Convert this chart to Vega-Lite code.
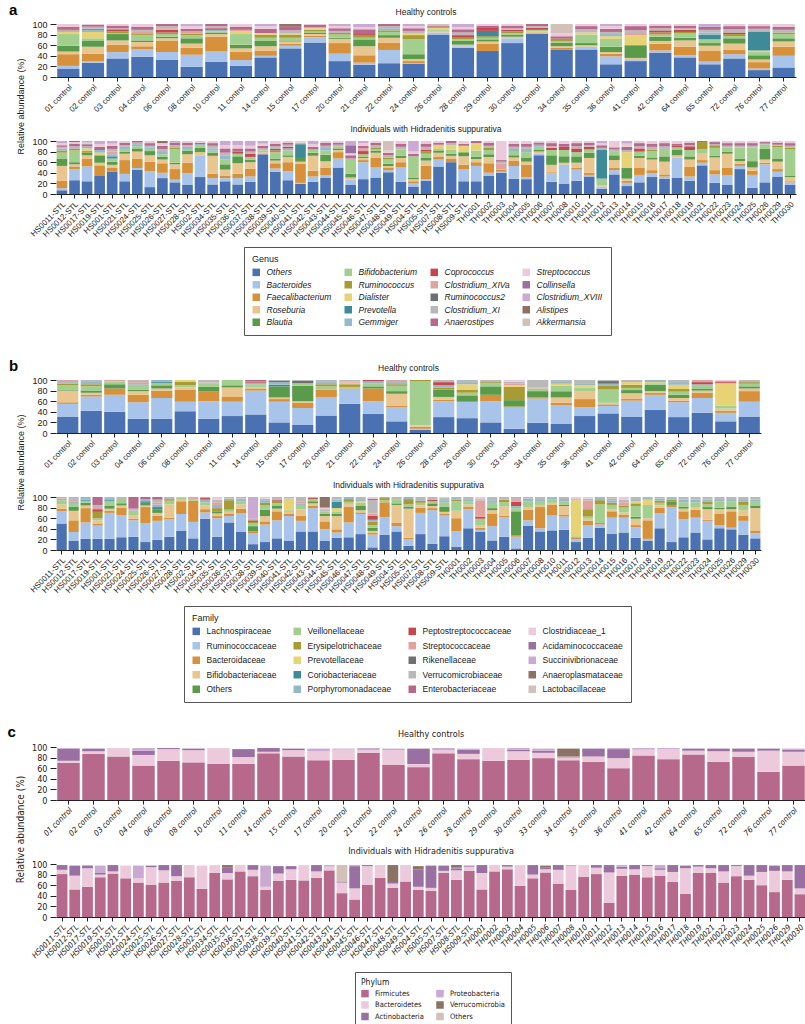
{
"$schema":"https://vega.github.io/schema/vega-lite/v6.json",
"padding":{"left":7,"top":2,"right":0,"bottom":0},
"config":{"view":{"stroke":null},"font":"Liberation Sans",
"title":{"fontSize":8.5,"fontWeight":"normal","color":"#222","offset":4,"anchor":"middle"},
"axis":{"labelColor":"#222","titleColor":"#222","tickColor":"#222","domainColor":"#222","tickSize":4,"labelPadding":2,"titleFontWeight":"normal","titleFontSize":9,"labelFontSize":8,"grid":false},
"axisY":{"domain":false,"labelFontSize":9,"tickSize":6,"labelPadding":3,"titlePadding":6},
"axisX":{"labelAngle":-45},
"legend":{"titleFontWeight":"normal","titleFontSize":9,"titlePadding":4,"symbolType":"square","symbolSize":56,"symbolStrokeWidth":0,"strokeColor":"#555","padding":8,"labelOffset":6,"labelColor":"#222","titleColor":"#222"}},
"datasets":{
"gmap":[{"k":"o","name":"Others","i":0},{"k":"bc","name":"Bacteroides","i":1},{"k":"fa","name":"Faecalibacterium","i":2},{"k":"ro","name":"Roseburia","i":3},{"k":"bl","name":"Blautia","i":4},{"k":"bi","name":"Bifidobacterium","i":5},{"k":"ru","name":"Ruminococcus","i":6},{"k":"di","name":"Dialister","i":7},{"k":"pr","name":"Prevotella","i":8},{"k":"ge","name":"Gemmiger","i":9},{"k":"co","name":"Coprococcus","i":10},{"k":"c14","name":"Clostridium_XIVa","i":11},{"k":"r2","name":"Ruminococcus2","i":12},{"k":"c11","name":"Clostridium_XI","i":13},{"k":"an","name":"Anaerostipes","i":14},{"k":"st","name":"Streptococcus","i":15},{"k":"cl","name":"Collinsella","i":16},{"k":"c18","name":"Clostridium_XVIII","i":17},{"k":"al","name":"Alistipes","i":18},{"k":"ak","name":"Akkermansia","i":19}],
"fmap":[{"k":"la","name":"Lachnospiraceae","i":0},{"k":"rm","name":"Ruminococcaceae","i":1},{"k":"bd","name":"Bacteroidaceae","i":2},{"k":"bf","name":"Bifidobacteriaceae","i":3},{"k":"ot","name":"Others","i":4},{"k":"ve","name":"Veillonellaceae","i":5},{"k":"er","name":"Erysipelotrichaceae","i":6},{"k":"pv","name":"Prevotellaceae","i":7},{"k":"cr","name":"Coriobacteriaceae","i":8},{"k":"po","name":"Porphyromonadaceae","i":9},{"k":"pe","name":"Peptostreptococcaceae","i":10},{"k":"sc","name":"Streptococcaceae","i":11},{"k":"ri","name":"Rikenellaceae","i":12},{"k":"vm","name":"Verrucomicrobiaceae","i":13},{"k":"en","name":"Enterobacteriaceae","i":14},{"k":"cd","name":"Clostridiaceae_1","i":15},{"k":"ac","name":"Acidaminococcaceae","i":16},{"k":"su","name":"Succinivibrionaceae","i":17},{"k":"ap","name":"Anaeroplasmataceae","i":18},{"k":"lb","name":"Lactobacillaceae","i":19}],
"pmap":[{"k":"fi","name":"Firmicutes","i":0},{"k":"bt","name":"Bacteroidetes","i":1},{"k":"ac","name":"Actinobacteria","i":2},{"k":"pb","name":"Proteobacteria","i":3},{"k":"vc","name":"Verrucomicrobia","i":4},{"k":"ot","name":"Others","i":5}],
"genus":[
{"s":"01 control","g":"H","o":16,"bc":5,"fa":22,"ro":5,"bl":11,"bi":22,"di":4,"c14":3,"r2":2,"an":5,"st":5},
{"s":"02 control","g":"H","o":27,"bc":3,"fa":14,"ro":13,"bl":11,"bi":5,"di":12,"ge":4,"r2":2,"c11":4,"an":3,"st":2},
{"s":"03 control","g":"H","o":35,"bc":12,"fa":14,"ro":8,"bl":12,"bi":2,"ru":3,"co":4,"c11":2,"an":5,"st":3},
{"s":"04 control","g":"H","o":38,"bc":14,"fa":6,"ro":8,"bl":3,"bi":10,"ru":2,"c14":4,"c11":4,"an":6,"st":5},
{"s":"06 control","g":"H","o":32,"bc":15,"fa":21,"ro":5,"bl":3,"bi":5,"ru":3,"co":5,"c14":3,"c11":4,"an":4},
{"s":"08 control","g":"H","o":19,"bc":23,"fa":13,"ro":8,"bl":10,"bi":6,"ru":3,"c14":4,"an":5,"st":5,"c18":4},
{"s":"10 control","g":"H","o":29,"bc":19,"fa":28,"ro":5,"bl":3,"bi":2,"ge":3,"co":3,"c11":4,"an":4},
{"s":"11 control","g":"H","o":21,"bc":11,"fa":16,"ro":6,"bl":7,"bi":20,"di":5,"c14":3,"an":6,"st":5},
{"s":"14 control","g":"H","o":37,"bc":3,"fa":10,"ro":8,"bl":10,"bi":6,"ru":6,"di":3,"an":8,"st":5,"c18":4},
{"s":"15 control","g":"H","o":54,"bc":5,"fa":4,"ro":4,"bl":2,"bi":5,"ru":6,"di":3,"c11":5,"an":8,"al":4},
{"s":"17 control","g":"H","o":65,"bc":10,"fa":3,"ro":3,"bl":2,"bi":3,"ru":3,"di":3,"c11":2,"an":4,"st":2},
{"s":"20 control","g":"H","o":30,"bc":14,"fa":20,"ro":8,"bl":2,"bi":6,"ru":3,"c11":4,"an":5,"st":4,"c18":4},
{"s":"21 control","g":"H","o":23,"bc":4,"fa":14,"ro":17,"bl":13,"bi":3,"ru":4,"co":3,"an":9,"st":4,"c18":6},
{"s":"22 control","g":"H","o":26,"bc":25,"fa":14,"ro":9,"bl":5,"bi":6,"ru":3,"ge":4,"c11":4,"an":4},
{"s":"24 control","g":"H","o":25,"bc":1,"fa":4,"ro":4,"bl":9,"bi":28,"ru":8,"di":4,"c11":4,"an":5,"st":4,"c18":4},
{"s":"26 control","g":"H","o":80,"bc":4,"ro":3,"bi":3,"di":3,"an":3,"ak":4},
{"s":"28 control","g":"H","o":55,"bc":3,"ro":3,"bl":7,"bi":3,"ru":3,"co":5,"c11":5,"an":6,"st":4,"c18":6},
{"s":"29 control","g":"H","o":49,"fa":14,"ro":4,"bl":4,"bi":3,"ru":3,"pr":10,"co":7,"an":3,"st":3},
{"s":"30 control","g":"H","o":64,"bc":9,"ro":3,"bl":4,"bi":3,"ru":3,"co":3,"c11":3,"an":5,"st":3},
{"s":"33 control","g":"H","o":82,"ro":4,"bi":3,"co":4,"c11":3,"an":4},
{"s":"34 control","g":"H","o":52,"fa":3,"ro":3,"bl":7,"bi":3,"ru":4,"an":5,"st":5,"ak":18},
{"s":"35 control","g":"H","o":52,"bc":5,"ro":3,"bl":4,"bi":16,"di":4,"c11":6,"an":6,"st":4},
{"s":"36 control","g":"H","o":24,"bc":15,"fa":5,"ro":3,"bl":10,"bi":15,"di":5,"ge":4,"c11":4,"an":6,"st":5,"c18":4},
{"s":"41 control","g":"H","o":30,"bc":2,"ro":4,"bl":24,"di":19,"c14":4,"c11":5,"an":8,"st":4},
{"s":"42 control","g":"H","o":46,"bc":4,"fa":13,"ro":5,"bl":8,"bi":4,"ru":4,"co":4,"c11":4,"an":5,"st":3},
{"s":"64 control","g":"H","o":37,"bc":4,"fa":16,"ro":12,"bl":5,"bi":8,"ru":3,"co":4,"c11":3,"an":5,"st":3},
{"s":"65 control","g":"H","o":24,"bc":5,"fa":20,"ro":10,"bl":5,"bi":7,"pr":9,"ge":4,"c11":5,"an":6,"c18":5},
{"s":"72 control","g":"H","o":35,"bc":8,"fa":8,"ro":12,"bl":10,"bi":4,"ru":4,"co":3,"c11":6,"an":6,"st":4},
{"s":"76 control","g":"H","o":13,"bc":3,"fa":12,"ro":5,"bl":8,"bi":6,"di":3,"pr":36,"c11":5,"an":5,"st":4},
{"s":"77 control","g":"H","o":18,"bc":22,"fa":17,"ro":10,"bl":6,"bi":8,"ru":3,"c11":5,"an":6,"st":5},
{"s":"HS0011-STL","g":"S","o":7,"bc":4,"fa":14,"ro":28,"bl":14,"bi":11,"ru":4,"ge":4,"c11":3,"an":3,"st":4,"c18":4},
{"s":"HS0012-STL","g":"S","o":26,"bc":21,"fa":5,"ro":4,"bl":4,"bi":22,"ru":3,"c11":5,"an":5,"st":3,"al":2},
{"s":"HS0017-STL","g":"S","o":24,"bc":28,"fa":14,"ro":7,"bl":5,"ru":3,"di":5,"ge":4,"an":4,"st":3,"c18":3},
{"s":"HS0019-STL","g":"S","o":34,"fa":20,"ro":5,"bl":14,"di":5,"ge":5,"an":6,"st":5,"c18":6},
{"s":"HS001-STL","g":"S","o":42,"fa":8,"ro":5,"bl":6,"bi":6,"pr":4,"ge":4,"c14":5,"c11":5,"an":6,"st":4,"c18":5},
{"s":"HS0021-STL","g":"S","o":24,"bc":14,"fa":26,"ro":12,"bl":4,"bi":5,"ge":4,"c11":3,"an":5,"st":3},
{"s":"HS0024-STL","g":"S","o":46,"bc":3,"fa":17,"ro":14,"bl":6,"bi":4,"ge":4,"c11":3,"an":3},
{"s":"HS0025-STL","g":"S","o":13,"bc":30,"fa":18,"ro":12,"bl":8,"bi":4,"ge":3,"c11":3,"an":5,"st":4},
{"s":"HS0026-STL","g":"S","o":30,"bc":10,"fa":18,"ro":7,"bl":5,"bi":5,"ge":6,"c11":4,"an":6,"st":5,"al":4},
{"s":"HS0027-STL","g":"S","o":22,"bc":5,"fa":20,"ro":9,"bl":3,"bi":26,"ru":3,"c11":4,"an":5,"c18":3},
{"s":"HS0028-STL","g":"S","o":17,"bc":22,"fa":20,"ro":16,"bl":7,"bi":3,"ge":4,"c11":3,"an":5,"st":3},
{"s":"HS002-STL","g":"S","o":32,"bc":40,"ro":7,"bl":8,"bi":4,"ge":3,"an":3,"st":3},
{"s":"HS0034-STL","g":"S","o":18,"bc":12,"fa":8,"ro":34,"bl":6,"bi":4,"ge":4,"c11":5,"an":5,"st":4},
{"s":"HS0035-STL","g":"S","o":24,"bc":6,"fa":4,"ro":12,"bl":10,"bi":9,"ge":8,"c11":5,"an":8,"st":6,"c18":8},
{"s":"HS0036-STL","g":"S","o":18,"bc":12,"fa":8,"ro":20,"bl":13,"bi":5,"co":4,"an":6,"st":6,"c18":8},
{"s":"HS0037-STL","g":"S","o":23,"bc":10,"fa":15,"ro":12,"bl":5,"bi":5,"co":6,"c11":4,"an":6,"st":5,"c18":9},
{"s":"HS0038-STL","g":"S","o":75,"ro":4,"bi":3,"c11":4,"an":5,"st":4,"c18":5},
{"s":"HS0039-STL","g":"S","o":42,"bc":6,"fa":10,"ro":5,"bl":4,"bi":12,"ru":3,"co":3,"c11":5,"an":5,"st":5},
{"s":"HS0040-STL","g":"S","o":26,"bc":17,"fa":17,"ro":10,"bl":3,"bi":9,"ge":4,"co":3,"c11":4,"an":4,"st":3},
{"s":"HS0041-STL","g":"S","o":19,"bc":2,"fa":36,"ro":4,"bl":7,"pr":26,"c11":3,"st":3},
{"s":"HS0042-STL","g":"S","o":23,"bc":10,"fa":11,"ro":28,"bl":6,"bi":6,"an":5,"st":5,"c18":6},
{"s":"HS0043-STL","g":"S","o":30,"bc":6,"fa":14,"ro":12,"bl":12,"bi":8,"ge":5,"c11":4,"an":5,"st":4},
{"s":"HS0044-STL","g":"S","o":50,"bc":17,"fa":12,"ro":4,"bl":3,"bi":4,"c11":3,"an":4,"st":3},
{"s":"HS0045-STL","g":"S","o":17,"bc":10,"ro":4,"bl":7,"bi":26,"c11":3,"an":6,"st":4,"cl":15,"c18":8},
{"s":"HS0046-STL","g":"S","o":28,"bc":32,"fa":4,"ro":4,"bl":2,"bi":5,"co":6,"c14":5,"an":5,"st":5,"c18":4},
{"s":"HS0047-STL","g":"S","o":31,"bc":19,"fa":19,"ro":9,"bl":4,"bi":3,"ru":2,"c11":5,"an":4,"st":4},
{"s":"HS0048-STL","g":"S","o":41,"bc":4,"fa":5,"ro":3,"bl":4,"bi":8,"ru":4,"c11":4,"an":5,"st":4,"ak":18},
{"s":"HS0049-STL","g":"S","o":23,"bc":27,"fa":10,"ro":8,"bl":4,"bi":12,"c11":5,"an":6,"st":5},
{"s":"HS004-STL","g":"S","o":14,"bc":6,"fa":4,"ro":4,"bl":3,"bi":40,"an":5,"st":4,"c18":20},
{"s":"HS005-STL","g":"S","o":25,"bc":3,"fa":25,"ro":10,"bl":5,"bi":8,"ru":4,"co":3,"c11":6,"an":6,"st":5},
{"s":"HS007-STL","g":"S","o":52,"bc":13,"fa":5,"ro":8,"bl":3,"bi":4,"di":8,"an":3,"st":4},
{"s":"HS008-STL","g":"S","o":60,"fa":7,"ro":5,"bl":4,"bi":8,"di":8,"c11":4,"an":4},
{"s":"HS009-STL","g":"S","o":24,"bc":22,"fa":9,"ro":16,"bl":8,"di":12,"an":4,"st":5},
{"s":"TH0001","g":"S","o":24,"bc":29,"fa":7,"ro":6,"bl":4,"bi":12,"di":14,"an":4},
{"s":"TH0002","g":"S","o":34,"bc":6,"fa":18,"ro":12,"bl":5,"bi":8,"ru":4,"c11":4,"an":5,"st":4},
{"s":"TH0003","g":"S","o":40,"bc":2,"fa":4,"c14":12,"c11":3,"an":3,"st":36},
{"s":"TH0004","g":"S","o":29,"bc":24,"fa":10,"ro":6,"bl":4,"bi":8,"ge":4,"c11":4,"an":6,"st":5},
{"s":"TH0005","g":"S","o":28,"bc":4,"fa":23,"ro":6,"bl":8,"bi":10,"ge":6,"c11":4,"an":6,"st":5},
{"s":"TH0006","g":"S","o":73,"bc":3,"ro":4,"bl":3,"bi":6,"ge":4,"an":4,"st":3},
{"s":"TH0007","g":"S","o":23,"bc":16,"fa":2,"ro":14,"bl":18,"bi":10,"co":4,"c11":3,"an":6,"st":4},
{"s":"TH0008","g":"S","o":19,"bc":36,"ro":4,"bl":12,"bi":12,"co":6,"an":6,"st":5},
{"s":"TH0010","g":"S","o":25,"bc":21,"fa":3,"ro":10,"bl":12,"bi":8,"co":7,"c11":4,"an":6,"st":4},
{"s":"TH0011","g":"S","o":33,"bc":3,"fa":4,"ro":28,"bl":10,"bi":6,"co":5,"c11":3,"an":5,"st":3},
{"s":"TH0012","g":"S","o":10,"bc":4,"ro":3,"bi":12,"pr":55,"c11":3,"an":5,"st":4,"c18":4},
{"s":"TH0013","g":"S","o":37,"bc":8,"fa":5,"ro":14,"bl":9,"bi":8,"c11":3,"an":4,"st":12},
{"s":"TH0014","g":"S","o":15,"bc":6,"fa":4,"ro":4,"bl":20,"di":30,"c11":4,"an":6,"st":6,"c18":5},
{"s":"TH0015","g":"S","o":22,"bc":14,"fa":14,"ro":18,"bl":4,"bi":8,"co":6,"c11":4,"an":6,"st":4},
{"s":"TH0016","g":"S","o":32,"bc":7,"fa":6,"ro":20,"bl":4,"bi":12,"ru":3,"c11":5,"an":6,"st":5},
{"s":"TH0017","g":"S","o":29,"bc":4,"fa":4,"ro":24,"bl":10,"bi":14,"c11":5,"an":6,"st":4},
{"s":"TH0018","g":"S","o":31,"bc":38,"ro":4,"bl":10,"bi":5,"co":3,"an":4,"st":5},
{"s":"TH0019","g":"S","o":25,"bc":8,"fa":18,"ro":14,"bl":6,"bi":12,"co":7,"c11":2,"an":5,"st":3},
{"s":"TH0021","g":"S","o":54,"bc":5,"fa":5,"ro":12,"bi":8,"ru":14,"an":2},
{"s":"TH0022","g":"S","o":21,"bc":16,"fa":8,"ro":24,"bl":3,"bi":15,"ru":5,"c11":2,"an":4,"st":2},
{"s":"TH0023","g":"S","o":17,"bc":18,"fa":15,"ro":26,"bl":4,"bi":8,"c11":3,"an":5,"st":4},
{"s":"TH0024","g":"S","o":47,"bc":6,"fa":4,"ro":5,"bl":4,"bi":22,"c11":3,"an":5,"st":4},
{"s":"TH0025","g":"S","o":12,"bc":24,"fa":8,"ro":6,"bl":12,"bi":26,"c11":3,"an":5,"st":4},
{"s":"TH0026","g":"S","o":22,"bc":34,"fa":3,"ro":6,"bl":20,"bi":8,"c11":2,"an":3,"st":2},
{"s":"TH0029","g":"S","o":33,"bc":9,"fa":5,"ro":14,"bl":5,"bi":22,"ru":3,"c11":2,"an":4,"st":3},
{"s":"TH0030","g":"S","o":17,"bc":5,"fa":2,"ro":8,"bl":2,"bi":50,"ru":3,"c11":4,"an":5,"st":4}
],
"family":[
{"s":"01 control","g":"H","la":31,"rm":24,"bd":3,"bf":22,"ot":2,"ve":8,"er":3,"po":3,"sc":4},
{"s":"02 control","g":"H","la":42,"rm":27,"bd":3,"bf":4,"ot":4,"ve":8,"er":4,"po":4,"vm":4},
{"s":"03 control","g":"H","la":40,"rm":32,"bd":12,"ot":8,"ve":4,"pv":2,"sc":2},
{"s":"04 control","g":"H","la":27,"rm":31,"bd":14,"bf":7,"ot":3,"ve":7,"po":3,"vm":4,"sc":4},
{"s":"06 control","g":"H","la":27,"rm":39,"bd":14,"bf":4,"ot":6,"ve":4,"cr":2,"po":4},
{"s":"08 control","g":"H","la":41,"rm":18,"bd":22,"bf":5,"ve":4,"er":6,"pv":4},
{"s":"10 control","g":"H","la":27,"rm":33,"bd":19,"ot":8,"ve":6,"vm":5,"sc":2},
{"s":"11 control","g":"H","la":32,"rm":27,"bd":10,"bf":17,"ot":4,"ve":10},
{"s":"14 control","g":"H","la":35,"rm":45,"bd":3,"bf":4,"ve":5,"po":3,"en":3,"pe":2},
{"s":"15 control","g":"H","la":20,"rm":39,"bd":5,"bf":3,"ot":21,"cr":3,"po":5,"ri":3,"vm":1},
{"s":"17 control","g":"H","la":15,"rm":32,"bd":10,"bf":3,"ot":29,"ve":5,"ri":5,"vm":1},
{"s":"20 control","g":"H","la":33,"rm":35,"bd":14,"ve":6,"er":4,"po":4,"vm":4},
{"s":"21 control","g":"H","la":55,"rm":27,"bd":2,"ve":3,"er":5,"pv":3,"vm":3,"sc":2},
{"s":"22 control","g":"H","la":36,"rm":24,"bd":24,"ot":4,"ve":6,"po":4,"pe":2},
{"s":"24 control","g":"H","la":22,"rm":27,"bd":2,"bf":23,"ot":5,"ve":10,"er":3,"po":4,"sc":4},
{"s":"26 control","g":"H","la":6,"rm":2,"bd":4,"bf":2,"ve":84,"er":2},
{"s":"28 control","g":"H","la":30,"rm":30,"bd":3,"bf":5,"ot":14,"er":4,"po":4,"pe":6,"vm":4},
{"s":"29 control","g":"H","la":28,"rm":31,"ot":12,"ve":5,"er":6,"pv":10,"po":4,"vm":4},
{"s":"30 control","g":"H","la":20,"rm":40,"bd":12,"ot":16,"ve":6,"er":2,"vm":4},
{"s":"33 control","g":"H","la":8,"rm":40,"bd":2,"ot":12,"er":25,"pv":3,"vm":4,"sc":3,"cd":3},
{"s":"34 control","g":"H","la":19,"rm":46,"bd":2,"ot":12,"ve":5,"vm":14,"sc":2},
{"s":"35 control","g":"H","la":17,"rm":36,"bd":4,"bf":10,"ot":12,"ve":10,"pv":4,"po":3,"vm":4},
{"s":"36 control","g":"H","la":32,"rm":17,"bd":15,"bf":14,"ve":8,"pv":4,"po":4,"vm":6},
{"s":"41 control","g":"H","la":37,"rm":14,"bd":3,"bf":3,"ve":25,"er":8,"po":3,"ri":5,"vm":2},
{"s":"42 control","g":"H","la":31,"rm":30,"bd":4,"bf":10,"ot":6,"ve":4,"er":6,"pv":5,"vm":4},
{"s":"64 control","g":"H","la":44,"rm":28,"bd":4,"bf":3,"ot":12,"ve":3,"pv":2,"po":4},
{"s":"65 control","g":"H","la":30,"rm":28,"bd":3,"bf":5,"ot":6,"ve":6,"er":5,"pv":8,"po":5,"vm":4},
{"s":"72 control","g":"H","la":38,"rm":28,"bd":10,"bf":4,"ot":3,"ve":6,"po":3,"pe":4,"sc":4},
{"s":"76 control","g":"H","la":22,"rm":16,"bd":4,"bf":4,"ve":6,"pv":42,"pe":2,"sc":3,"cd":1},
{"s":"77 control","g":"H","la":31,"rm":28,"bd":20,"bf":5,"ot":4,"ve":5,"er":3,"vm":4},
{"s":"HS0011-STL","g":"S","la":50,"rm":23,"bd":5,"bf":8,"ve":8,"po":3,"sc":3},
{"s":"HS0012-STL","g":"S","la":17,"rm":17,"bd":22,"bf":18,"ot":8,"ve":5,"po":4,"sc":5,"vm":4},
{"s":"HS0017-STL","g":"S","la":21,"rm":31,"bd":27,"bf":5,"ot":5,"ve":4,"cr":2,"po":5},
{"s":"HS0019-STL","g":"S","la":21,"rm":25,"bd":4,"bf":6,"ve":4,"er":12,"pe":5,"vm":4,"en":15,"sc":4},
{"s":"HS001-STL","g":"S","la":21,"rm":49,"bd":4,"bf":4,"ot":6,"ve":8,"cr":2,"po":4,"vm":2},
{"s":"HS0021-STL","g":"S","la":24,"rm":42,"bd":14,"bf":4,"ot":4,"ve":8,"vm":4},
{"s":"HS0024-STL","g":"S","la":25,"rm":31,"bd":3,"bf":7,"ve":6,"po":2,"vm":4,"en":22},
{"s":"HS0025-STL","g":"S","la":15,"rm":36,"bd":30,"bf":3,"ot":5,"cr":3,"po":4,"en":4},
{"s":"HS0026-STL","g":"S","la":19,"rm":36,"bd":10,"bf":5,"ot":6,"cr":5,"po":5,"sc":4,"vm":5,"en":5},
{"s":"HS0027-STL","g":"S","la":25,"rm":33,"bd":3,"bf":25,"ve":7,"er":3,"vm":4},
{"s":"HS0028-STL","g":"S","la":36,"rm":32,"bd":24,"bf":3,"ve":4,"po":1},
{"s":"HS002-STL","g":"S","la":22,"rm":31,"bd":40,"ve":3,"vm":2,"sc":2},
{"s":"HS0034-STL","g":"S","la":59,"rm":12,"bd":6,"bf":7,"ve":6,"po":5,"pe":3,"sc":2},
{"s":"HS0035-STL","g":"S","la":25,"rm":35,"bd":4,"bf":5,"ot":4,"er":6,"po":6,"sc":5,"vm":5,"cd":5},
{"s":"HS0036-STL","g":"S","la":52,"rm":12,"bd":5,"bf":3,"ve":4,"er":18,"po":3,"vm":3},
{"s":"HS0037-STL","g":"S","la":34,"rm":35,"bd":9,"bf":8,"ve":6,"po":4,"sc":1,"vm":3},
{"s":"HS0038-STL","g":"S","la":11,"rm":20,"bd":4,"ot":10,"ve":5,"er":3,"pe":3,"vm":4,"su":40},
{"s":"HS0039-STL","g":"S","la":15,"rm":33,"bd":6,"bf":10,"ot":12,"ve":8,"er":5,"po":5,"vm":3,"cd":3},
{"s":"HS0040-STL","g":"S","la":22,"rm":34,"bd":17,"bf":5,"ot":5,"ve":5,"er":5,"pe":2,"vm":5},
{"s":"HS0041-STL","g":"S","la":17,"rm":47,"bd":4,"bf":4,"ve":3,"pv":22,"vm":3},
{"s":"HS0042-STL","g":"S","la":35,"rm":20,"bd":10,"bf":12,"ve":8,"po":3,"sc":4,"vm":8},
{"s":"HS0043-STL","g":"S","la":35,"rm":44,"bd":4,"bf":5,"ot":4,"ve":4,"pe":2,"vm":2},
{"s":"HS0044-STL","g":"S","la":17,"rm":22,"bd":15,"bf":10,"ot":4,"ve":5,"vm":4,"cd":3,"ap":20},
{"s":"HS0045-STL","g":"S","la":23,"rm":10,"bd":6,"bf":25,"ot":4,"ve":5,"pv":6,"cr":12,"po":4,"vm":5},
{"s":"HS0046-STL","g":"S","la":24,"rm":28,"bd":30,"bf":5,"ve":4,"er":5,"po":4},
{"s":"HS0047-STL","g":"S","la":30,"rm":38,"bd":3,"bf":4,"ot":8,"ve":6,"pv":3,"po":4,"vm":4},
{"s":"HS0048-STL","g":"S","la":5,"rm":24,"bd":3,"bf":4,"ot":6,"ve":5,"er":6,"po":4,"pe":8,"sc":4,"vm":25,"en":3,"cd":3},
{"s":"HS0049-STL","g":"S","la":29,"rm":33,"bd":28,"ve":4,"er":4,"po":2},
{"s":"HS004-STL","g":"S","la":35,"rm":10,"bd":6,"bf":34,"ot":3,"ve":8,"vm":4},
{"s":"HS005-STL","g":"S","la":8,"rm":12,"bd":3,"bf":55,"ot":4,"ve":4,"er":10,"po":4},
{"s":"HS007-STL","g":"S","la":30,"rm":40,"bd":10,"bf":4,"ve":5,"er":4,"po":3,"vm":4},
{"s":"HS008-STL","g":"S","la":12,"rm":63,"bd":4,"bf":4,"ot":5,"ve":4,"pe":3,"vm":5},
{"s":"HS009-STL","g":"S","la":26,"rm":39,"bd":3,"bf":4,"ot":10,"ve":8,"po":4,"vm":4,"cd":2},
{"s":"TH0001","g":"S","la":6,"rm":29,"bd":25,"bf":14,"ve":18,"er":3,"po":3,"vm":2},
{"s":"TH0002","g":"S","la":41,"rm":36,"bd":5,"bf":4,"ve":6,"po":4,"vm":4},
{"s":"TH0003","g":"S","la":34,"rm":4,"bd":4,"bf":5,"ve":12,"pe":4,"sc":30,"vm":3,"cd":4},
{"s":"TH0004","g":"S","la":18,"rm":27,"bd":24,"bf":6,"ot":4,"ve":10,"po":5,"vm":6},
{"s":"TH0005","g":"S","la":25,"rm":37,"bd":3,"bf":17,"ve":8,"er":5,"vm":5},
{"s":"TH0006","g":"S","la":3,"rm":22,"bd":3,"ot":45,"ve":6,"po":4,"pe":8,"sc":5,"vm":4},
{"s":"TH0007","g":"S","la":46,"rm":10,"bd":20,"bf":4,"ve":12,"po":5,"vm":3},
{"s":"TH0008","g":"S","la":35,"rm":6,"bd":40,"bf":4,"ve":6,"po":5,"vm":4},
{"s":"TH0010","g":"S","la":37,"rm":28,"bd":20,"bf":4,"ve":6,"po":3,"vm":2},
{"s":"TH0011","g":"S","la":38,"rm":25,"bd":4,"bf":16,"ot":3,"ve":6,"po":4,"vm":4},
{"s":"TH0012","g":"S","la":15,"rm":5,"bd":4,"ve":2,"pv":68,"vm":2,"cd":4},
{"s":"TH0013","g":"S","la":23,"rm":24,"bd":8,"bf":4,"ve":4,"er":14,"sc":16,"vm":4,"cd":3},
{"s":"TH0014","g":"S","la":42,"rm":6,"bd":3,"ve":35,"er":8,"po":4,"vm":2},
{"s":"TH0015","g":"S","la":31,"rm":30,"bd":12,"bf":4,"ve":8,"er":4,"po":5,"sc":3,"vm":3},
{"s":"TH0016","g":"S","la":33,"rm":28,"bd":6,"bf":4,"ve":9,"er":4,"sc":6,"vm":5,"cd":5},
{"s":"TH0017","g":"S","la":23,"rm":20,"bd":4,"bf":12,"ot":4,"ve":20,"er":5,"pv":4,"po":4,"vm":4},
{"s":"TH0018","g":"S","la":17,"rm":4,"bd":35,"bf":4,"ve":25,"pv":10,"po":3,"vm":2},
{"s":"TH0019","g":"S","la":41,"rm":28,"bd":11,"bf":4,"ve":5,"er":4,"po":4,"vm":3},
{"s":"TH0021","g":"S","la":15,"rm":66,"bd":4,"ot":6,"er":4,"po":3,"vm":2},
{"s":"TH0022","g":"S","la":24,"rm":34,"bd":15,"bf":5,"ot":4,"ve":8,"po":5,"vm":5},
{"s":"TH0023","g":"S","la":33,"rm":28,"bd":15,"bf":4,"ve":10,"po":5,"vm":5},
{"s":"TH0024","g":"S","la":20,"rm":35,"bd":2,"bf":20,"ot":4,"ve":5,"er":5,"po":4,"vm":5},
{"s":"TH0025","g":"S","la":41,"rm":6,"bd":22,"bf":8,"ot":3,"ve":12,"po":4,"vm":4},
{"s":"TH0026","g":"S","la":39,"rm":3,"bd":31,"bf":4,"ot":5,"ve":10,"po":4,"vm":4},
{"s":"TH0029","g":"S","la":29,"rm":26,"bd":10,"bf":10,"ve":10,"er":6,"po":5,"vm":4},
{"s":"TH0030","g":"S","la":22,"rm":10,"bd":5,"bf":42,"ot":4,"ve":8,"po":4,"vm":5}
],
"phylum":[
{"s":"01 control","g":"H","fi":70,"bt":4,"ac":23,"pb":1},
{"s":"02 control","g":"H","fi":87,"bt":5,"ac":5},
{"s":"03 control","g":"H","fi":82,"bt":16},
{"s":"04 control","g":"H","fi":65,"bt":20,"ac":8,"pb":5},
{"s":"06 control","g":"H","fi":74,"bt":22,"ac":2},
{"s":"08 control","g":"H","fi":71,"bt":23,"ac":3},
{"s":"10 control","g":"H","fi":68,"bt":30},
{"s":"11 control","g":"H","fi":68,"bt":13,"ac":15},
{"s":"14 control","g":"H","fi":88,"bt":3,"ac":7},
{"s":"15 control","g":"H","fi":82,"bt":12,"ac":3},
{"s":"17 control","g":"H","fi":75,"bt":17,"pb":5},
{"s":"20 control","g":"H","fi":76,"bt":19,"pb":2},
{"s":"21 control","g":"H","fi":89,"bt":5,"pb":4},
{"s":"22 control","g":"H","fi":66,"bt":28,"pb":3},
{"s":"24 control","g":"H","fi":62,"bt":6,"ac":29},
{"s":"26 control","g":"H","fi":88,"bt":6,"pb":4},
{"s":"28 control","g":"H","fi":77,"bt":10,"ac":8,"pb":2},
{"s":"29 control","g":"H","fi":74,"bt":24},
{"s":"30 control","g":"H","fi":76,"bt":16,"ac":3,"pb":3},
{"s":"33 control","g":"H","fi":79,"bt":10,"ac":4,"pb":4},
{"s":"34 control","g":"H","fi":75,"bt":4,"pb":3,"vc":15},
{"s":"35 control","g":"H","fi":72,"bt":10,"ac":15},
{"s":"36 control","g":"H","fi":60,"bt":19,"ac":17,"pb":2},
{"s":"41 control","g":"H","fi":84,"bt":11,"pb":3},
{"s":"42 control","g":"H","fi":77,"bt":19,"pb":2},
{"s":"64 control","g":"H","fi":86,"bt":7,"ac":4},
{"s":"65 control","g":"H","fi":72,"bt":20,"ac":5},
{"s":"72 control","g":"H","fi":81,"bt":10,"ac":6},
{"s":"76 control","g":"H","fi":53,"bt":40,"ac":4},
{"s":"77 control","g":"H","fi":65,"bt":26,"ac":4,"pb":2},
{"s":"HS0011-STL","g":"S","fi":81,"bt":8,"ac":9},
{"s":"HS0012-STL","g":"S","fi":52,"bt":26,"ac":19},
{"s":"HS0017-STL","g":"S","fi":57,"bt":35,"ac":5},
{"s":"HS0019-STL","g":"S","fi":75,"bt":5,"ac":4,"pb":13},
{"s":"HS001-STL","g":"S","fi":82,"bt":4,"ac":12},
{"s":"HS0021-STL","g":"S","fi":73,"bt":24},
{"s":"HS0024-STL","g":"S","fi":65,"bt":8,"pb":24},
{"s":"HS0025-STL","g":"S","fi":61,"bt":33,"ac":3},
{"s":"HS0026-STL","g":"S","fi":65,"bt":23,"ac":10},
{"s":"HS0027-STL","g":"S","fi":68,"bt":9,"ac":21},
{"s":"HS0028-STL","g":"S","fi":75,"bt":23},
{"s":"HS002-STL","g":"S","fi":53,"bt":44},
{"s":"HS0034-STL","g":"S","fi":83,"bt":15},
{"s":"HS0035-STL","g":"S","fi":71,"bt":12,"ac":10,"vc":5},
{"s":"HS0036-STL","g":"S","fi":86,"bt":12},
{"s":"HS0037-STL","g":"S","fi":77,"bt":12,"ac":9},
{"s":"HS0038-STL","g":"S","fi":51,"bt":6,"pb":40},
{"s":"HS0039-STL","g":"S","fi":68,"bt":14,"ac":14},
{"s":"HS0040-STL","g":"S","fi":70,"bt":20,"ac":6},
{"s":"HS0041-STL","g":"S","fi":69,"bt":29},
{"s":"HS0042-STL","g":"S","fi":74,"bt":12,"ac":12},
{"s":"HS0043-STL","g":"S","fi":88,"bt":7,"pb":3},
{"s":"HS0044-STL","g":"S","fi":45,"bt":20,"ac":2,"ot":31},
{"s":"HS0045-STL","g":"S","fi":33,"bt":21,"ac":42,"pb":2},
{"s":"HS0046-STL","g":"S","fi":61,"bt":35,"ac":2},
{"s":"HS0047-STL","g":"S","fi":74,"bt":24},
{"s":"HS0048-STL","g":"S","fi":55,"bt":8,"ac":3,"vc":32},
{"s":"HS0049-STL","g":"S","fi":67,"bt":31},
{"s":"HS004-STL","g":"S","fi":51,"bt":6,"ac":33,"vc":6},
{"s":"HS005-STL","g":"S","fi":49,"bt":6,"ac":42},
{"s":"HS007-STL","g":"S","fi":83,"bt":4,"ac":10},
{"s":"HS008-STL","g":"S","fi":70,"bt":18,"ac":4,"pb":1,"vc":5},
{"s":"HS009-STL","g":"S","fi":87,"bt":8,"ac":2},
{"s":"TH0001","g":"S","fi":52,"bt":31,"ac":15},
{"s":"TH0002","g":"S","fi":86,"bt":12},
{"s":"TH0003","g":"S","fi":90,"bt":5,"ac":3},
{"s":"TH0004","g":"S","fi":59,"bt":39},
{"s":"TH0005","g":"S","fi":73,"bt":7,"ac":18},
{"s":"TH0006","g":"S","fi":84,"bt":6,"ac":3,"vc":4},
{"s":"TH0007","g":"S","fi":63,"bt":26,"ac":9},
{"s":"TH0008","g":"S","fi":51,"bt":45,"pb":2},
{"s":"TH0010","g":"S","fi":76,"bt":22},
{"s":"TH0011","g":"S","fi":81,"bt":12,"ac":5},
{"s":"TH0012","g":"S","fi":27,"bt":57,"ac":14},
{"s":"TH0013","g":"S","fi":78,"bt":13,"ac":4,"pb":3},
{"s":"TH0014","g":"S","fi":80,"bt":10,"ac":8},
{"s":"TH0015","g":"S","fi":75,"bt":21,"ac":2},
{"s":"TH0016","g":"S","fi":78,"bt":11,"ac":3,"pb":6},
{"s":"TH0017","g":"S","fi":66,"bt":19,"ac":13},
{"s":"TH0018","g":"S","fi":44,"bt":48,"ac":5},
{"s":"TH0019","g":"S","fi":83,"bt":12,"ac":3},
{"s":"TH0021","g":"S","fi":83,"bt":9,"ac":6},
{"s":"TH0022","g":"S","fi":65,"bt":21,"ac":12},
{"s":"TH0023","g":"S","fi":77,"bt":19,"ac":2},
{"s":"TH0024","g":"S","fi":70,"bt":8,"ac":20},
{"s":"TH0025","g":"S","fi":60,"bt":25,"ac":13},
{"s":"TH0026","g":"S","fi":47,"bt":40,"ac":10},
{"s":"TH0029","g":"S","fi":70,"bt":16,"ac":12},
{"s":"TH0030","g":"S","fi":43,"bt":11,"ac":44}
]
},
"spacing":22,
"resolve":{"scale":{"color":"independent"}},
"vconcat":[
{"title":{"text":"a","anchor":"start","frame":"bounds","fontSize":15,"fontWeight":"bold","color":"#000","offset":0,"dy":10,"dx":-8},
"bounds":"flush","spacing":64,
"vconcat":[
{"width":740,"height":53,"title":"Healthy controls",
"data":{"name":"genus"},
"transform":[{"filter":{"field":"g","equal":"H"}},{"fold":["o","bc","fa","ro","bl","bi","ru","di","pr","ge","co","c14","r2","c11","an","st","cl","c18","al","ak"],"as":["k","v"]},{"filter":"datum.v > 0"},{"lookup":"k","from":{"data":{"name":"gmap"},"key":"k","fields":["name","i"]}}],
"mark":{"type":"bar"},
"encoding":{
"x":{"field":"s","type":"nominal","sort":null,"scale":{"paddingInner":0.1,"paddingOuter":0.05},"axis":{"title":null}},
"y":{"field":"v","type":"quantitative","stack":"zero","scale":{"domain":[0,100],"clamp":true},"axis":{"values":[0,20,40,60,80,100],"title":"Relative abundance (%)","titleY":82}},
"color":{"field":"name","type":"nominal","title":"Genus","scale":{"domain":["Others","Bacteroides","Faecalibacterium","Roseburia","Blautia","Bifidobacterium","Ruminococcus","Dialister","Prevotella","Gemmiger","Coprococcus","Clostridium_XIVa","Ruminococcus2","Clostridium_XI","Anaerostipes","Streptococcus","Collinsella","Clostridium_XVIII","Alistipes","Akkermansia"],"range":["#4a71b1","#a9c4eb","#d6913a","#e9c58f","#5a9a4b","#a3cf8e","#a89a34","#e8d276","#3e8a99","#94b9c7","#c8464f","#e2a39f","#707070","#b9b9b9","#b7698c","#edcadb","#9a70a3","#caaad2","#8b7262","#d3c0b8"]},"legend":{"orient":"none","legendX":188,"legendY":223,"columns":4,"labelFontSize":8.5,"labelFontStyle":"italic","rowPadding":3.5,"columnPadding":12}},
"order":{"field":"i","type":"quantitative","sort":"ascending"}}},
{"width":740,"height":53,"title":"Individuals with Hidradenitis suppurativa",
"data":{"name":"genus"},
"transform":[{"filter":{"field":"g","equal":"S"}},{"fold":["o","bc","fa","ro","bl","bi","ru","di","pr","ge","co","c14","r2","c11","an","st","cl","c18","al","ak"],"as":["k","v"]},{"filter":"datum.v > 0"},{"lookup":"k","from":{"data":{"name":"gmap"},"key":"k","fields":["name","i"]}}],
"mark":{"type":"bar"},
"encoding":{
"x":{"field":"s","type":"nominal","sort":null,"scale":{"paddingInner":0.15,"paddingOuter":0.05},"axis":{"title":null}},
"y":{"field":"v","type":"quantitative","stack":"zero","scale":{"domain":[0,100],"clamp":true},"axis":{"values":[0,20,40,60,80,100],"title":null}},
"color":{"field":"name","type":"nominal","title":"Genus"},
"order":{"field":"i","type":"quantitative","sort":"ascending"}}}
]},
{"title":{"text":"b","anchor":"start","frame":"bounds","fontSize":15,"fontWeight":"bold","color":"#000","offset":0,"dy":10,"dx":-8},
"bounds":"flush","spacing":64,
"vconcat":[
{"width":705,"height":53,"title":"Healthy controls",
"data":{"name":"family"},
"transform":[{"filter":{"field":"g","equal":"H"}},{"fold":["la","rm","bd","bf","ot","ve","er","pv","cr","po","pe","sc","ri","vm","en","cd","ac","su","ap","lb"],"as":["k","v"]},{"filter":"datum.v > 0"},{"lookup":"k","from":{"data":{"name":"fmap"},"key":"k","fields":["name","i"]}}],
"mark":{"type":"bar"},
"encoding":{
"x":{"field":"s","type":"nominal","sort":null,"scale":{"paddingInner":0.1,"paddingOuter":0.05},"axis":{"title":null}},
"y":{"field":"v","type":"quantitative","stack":"zero","scale":{"domain":[0,100],"clamp":true},"axis":{"values":[0,20,40,60,80,100],"title":"Relative abundance (%)","titleY":82}},
"color":{"field":"name","type":"nominal","title":"Family","scale":{"domain":["Lachnospiraceae","Ruminococcaceae","Bacteroidaceae","Bifidobacteriaceae","Others","Veillonellaceae","Erysipelotrichaceae","Prevotellaceae","Coriobacteriaceae","Porphyromonadaceae","Peptostreptococcaceae","Streptococcaceae","Rikenellaceae","Verrucomicrobiaceae","Enterobacteriaceae","Clostridiaceae_1","Acidaminococcaceae","Succinivibrionaceae","Anaeroplasmataceae","Lactobacillaceae"],"range":["#4a71b1","#a9c4eb","#d6913a","#e9c58f","#5a9a4b","#a3cf8e","#a89a34","#e8d276","#3e8a99","#94b9c7","#c8464f","#e2a39f","#707070","#b9b9b9","#b7698c","#edcadb","#9a70a3","#caaad2","#8b7262","#d3c0b8"]},"legend":{"orient":"none","legendX":128,"legendY":226,"columns":4,"labelFontSize":8.5,"rowPadding":5.5,"columnPadding":16}},
"order":{"field":"i","type":"quantitative","sort":"ascending"}}},
{"width":705,"height":53,"title":"Individuals with Hidradenitis suppurativa",
"data":{"name":"family"},
"transform":[{"filter":{"field":"g","equal":"S"}},{"fold":["la","rm","bd","bf","ot","ve","er","pv","cr","po","pe","sc","ri","vm","en","cd","ac","su","ap","lb"],"as":["k","v"]},{"filter":"datum.v > 0"},{"lookup":"k","from":{"data":{"name":"fmap"},"key":"k","fields":["name","i"]}}],
"mark":{"type":"bar"},
"encoding":{
"x":{"field":"s","type":"nominal","sort":null,"scale":{"paddingInner":0.15,"paddingOuter":0.05},"axis":{"title":null}},
"y":{"field":"v","type":"quantitative","stack":"zero","scale":{"domain":[0,100],"clamp":true},"axis":{"values":[0,20,40,60,80,100],"title":null}},
"color":{"field":"name","type":"nominal","title":"Family"},
"order":{"field":"i","type":"quantitative","sort":"ascending"}}}
]},
{"title":{"text":"c","anchor":"start","frame":"bounds","fontSize":15,"fontWeight":"bold","color":"#000","offset":0,"dy":10,"dx":-8},
"bounds":"flush","spacing":64,
"vconcat":[
{"width":750,"height":53,"title":{"text":"Healthy controls","font":"'DejaVu Sans Condensed', 'Liberation Sans'","fontSize":9},
"data":{"name":"phylum"},
"transform":[{"filter":{"field":"g","equal":"H"}},{"fold":["fi","bt","ac","pb","vc","ot"],"as":["k","v"]},{"filter":"datum.v > 0"},{"lookup":"k","from":{"data":{"name":"pmap"},"key":"k","fields":["name","i"]}}],
"mark":{"type":"bar"},
"encoding":{
"x":{"field":"s","type":"nominal","sort":null,"scale":{"paddingInner":0.1,"paddingOuter":0.05},"axis":{"title":null,"labelFont":"'DejaVu Sans Condensed', 'Liberation Sans'","labelFontStyle":"italic","labelFontSize":8}},
"y":{"field":"v","type":"quantitative","stack":"zero","scale":{"domain":[0,100],"clamp":true},"axis":{"values":[0,20,40,60,80,100],"title":"Relative abundance (%)","titleY":82,"labelFont":"'DejaVu Sans Condensed', 'Liberation Sans'","labelFontSize":9,"titleFont":"'DejaVu Sans Condensed', 'Liberation Sans'","titleFontSize":10}},
"color":{"field":"name","type":"nominal","title":"Phylum","scale":{"domain":["Firmicutes","Bacteroidetes","Actinobacteria","Proteobacteria","Verrucomicrobia","Others"],"range":["#b7698c","#edcadb","#9a70a3","#caaad2","#8b7262","#d3c0b8"]},"legend":{"orient":"none","legendX":299,"legendY":225,"columns":2,"labelFont":"'DejaVu Sans Condensed', 'Liberation Sans'","titleFont":"'DejaVu Sans Condensed', 'Liberation Sans'","labelFontSize":7.5,"titleFontSize":8.5,"titlePadding":3,"rowPadding":3.5,"columnPadding":12,"padding":6}},
"order":{"field":"i","type":"quantitative","sort":"ascending"}}},
{"width":750,"height":53,"title":{"text":"Individuals with Hidradenitis suppurativa","font":"'DejaVu Sans Condensed', 'Liberation Sans'","fontSize":9},
"data":{"name":"phylum"},
"transform":[{"filter":{"field":"g","equal":"S"}},{"fold":["fi","bt","ac","pb","vc","ot"],"as":["k","v"]},{"filter":"datum.v > 0"},{"lookup":"k","from":{"data":{"name":"pmap"},"key":"k","fields":["name","i"]}}],
"mark":{"type":"bar"},
"encoding":{
"x":{"field":"s","type":"nominal","sort":null,"scale":{"paddingInner":0.15,"paddingOuter":0.05},"axis":{"title":null,"labelFont":"'DejaVu Sans Condensed', 'Liberation Sans'","labelFontStyle":"italic","labelFontSize":8}},
"y":{"field":"v","type":"quantitative","stack":"zero","scale":{"domain":[0,100],"clamp":true},"axis":{"values":[0,20,40,60,80,100],"title":null,"labelFont":"'DejaVu Sans Condensed', 'Liberation Sans'","labelFontSize":9}},
"color":{"field":"name","type":"nominal","title":"Phylum"},
"order":{"field":"i","type":"quantitative","sort":"ascending"}}}
]}
]
}
